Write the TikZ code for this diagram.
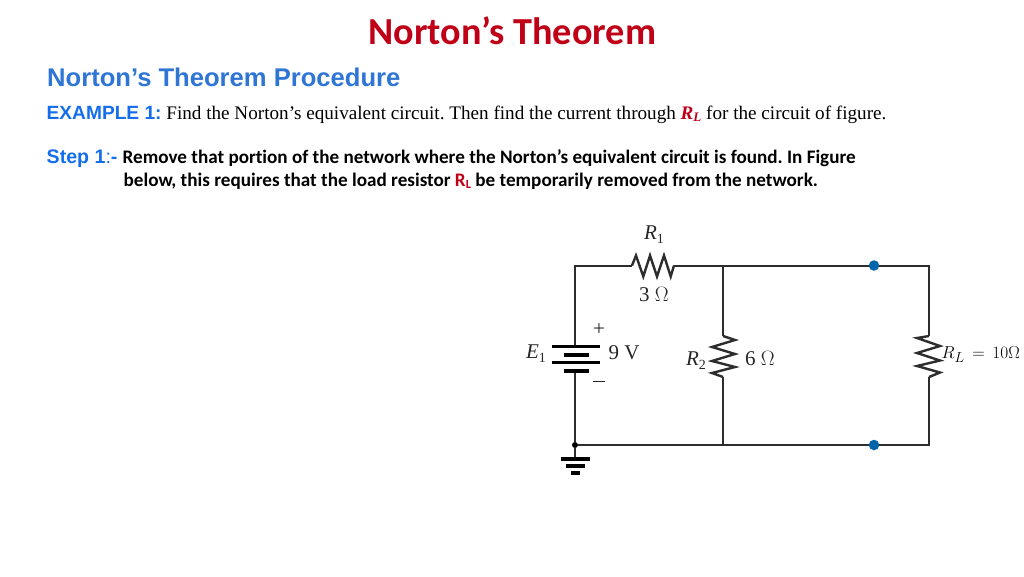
\documentclass[tikz,border=0pt]{standalone}
\usepackage{fontspec}
\usepackage{amsmath}
\setmainfont{Liberation Serif}
\newfontfamily\carl[Ligatures=NoCommon]{Carlito}
\newfontfamily\arial{Liberation Sans}
\definecolor{titlered}{RGB}{192,0,22}
\definecolor{headblue}{RGB}{46,117,214}
\definecolor{stepblue}{RGB}{20,110,235}
\definecolor{dotblue}{RGB}{0,100,170}
\definecolor{wirec}{RGB}{45,45,45}
\tikzset{
  x=1pt,y=-1pt,
  txt/.style={inner sep=0pt,anchor=base west,text=black},
  wire/.style={draw=wirec,line width=2pt,line join=miter},
  zig/.style={draw=wirec,line width=2.4pt,line join=miter},
  plate/.style={draw=black,line width=2.8pt},
  thick plate/.style={draw=black,line width=4.4pt},
  term/.style={circle,fill=dotblue,inner sep=0pt,minimum size=10.5pt},
  junc/.style={circle,fill=black,inner sep=0pt,minimum size=6pt},
  lab/.style={inner sep=0pt,text=black!85,font=\fontsize{21}{23}\selectfont},
}
\frenchspacing
\begin{document}
\begin{tikzpicture}
\useasboundingbox (0,0) rectangle (1024,576);
% texts
\node[txt,text=titlered] (title) at (368.5,44.5) {\carl\bfseries\fontsize{38.2}{40}\selectfont Norton’s Theorem};
\node[txt,text=headblue] (head) at (47,86) {\arial\bfseries\fontsize{25.6}{28}\selectfont Norton’s Theorem Procedure};
\node[txt] (ex) at (46.5,119) {\fontsize{19.15}{22}\selectfont\textcolor{stepblue}{\arial\bfseries EXAMPLE 1:} Find the Norton’s equivalent circuit. Then find the current through \textcolor{titlered}{\textbf{\textit{R\raisebox{-0.25ex}{\fontsize{13}{13}\selectfont L}}}} for the circuit of figure.};
\node[txt] (st1) at (46.5,163) {\textcolor{stepblue}{\arial\bfseries\fontsize{19.6}{22}\selectfont Step 1}\textcolor{stepblue}{\arial\fontsize{19.6}{22}\selectfont :\textbf{-}}};
\node[txt] (st2) at (122.5,163) {\carl\bfseries\fontsize{19.12}{22}\selectfont Remove that portion of the network where the Norton’s equivalent circuit is found. In Figure};
\node[txt] (st3) at (123.5,186) {\carl\bfseries\fontsize{19.15}{22}\selectfont below, this requires that the load resistor \textcolor{titlered}{R\raisebox{-0.3ex}{\fontsize{12.5}{13}\selectfont L}} be temporarily removed from the network.};
% circuit points
\coordinate (tl) at (575,265.5);
\coordinate (r1a) at (632,265.5);
\coordinate (r1b) at (674,265.5);
\coordinate (tm) at (723,265.5);
\coordinate (tr) at (929,265.5);
\coordinate (r2a) at (723,336);
\coordinate (r2b) at (723,377);
\coordinate (rla) at (929,336);
\coordinate (rlb) at (929,377);
\coordinate (bm) at (723,445);
\coordinate (br) at (929,445);
\coordinate (bat+) at (575,346.5);
\coordinate (bat-) at (575,370.5);
\node[junc] (bl) at (575,445) {};
\coordinate (gnd) at (575,459);
% wires
\draw[wire] (bat+) -- (tl) -- (r1a);
\draw[wire] (r1b) -- (tm) -- (tr) -- (rla);
\draw[wire] (tm) -- (r2a);
\draw[wire] (r2b) -- (bm);
\draw[wire] (rlb) -- (br) -- (bl);
\draw[wire] (bat-) -- (bl) -- (gnd);
% resistors
\draw[zig] (r1a) -- (636,255.5) -- (643.3,276.5) -- (650,255.5) -- (657,276.5) -- (664,255.5) -- (670.7,276.5) -- (r1b);
\draw[zig] (r2a) -- (735,340) -- (712,347) -- (735,354) -- (712,361) -- (735,367) -- (712,373) -- (r2b);
\draw[zig] (rla) -- (917,338) -- (940,346) -- (917,353) -- (940,360.5) -- (917,366) -- (940,372.5) -- (rlb);
% battery
\draw[plate] (552,346.7) -- (600,346.7);
\draw[thick plate] (563.5,355) -- (588.5,355);
\draw[plate] (552,362.7) -- (600,362.7);
\draw[thick plate] (563.5,370.7) -- (588.5,370.7);
% ground
\draw[line width=3.2pt] (561,459) -- (590,459);
\draw[line width=3.2pt] (566,466) -- (585,466);
\draw[line width=3.2pt] (571,473) -- (580,473);
% terminals
\node[term] (ta) at (874,265.5) {};
\node[term] (tb) at (874,445) {};
% labels
\node[lab] (lr1) at (654,234.5) {\textit{R}\raisebox{-0.4ex}{\fontsize{14}{14}\selectfont 1}};
\node[lab] (l3) at (654,295) {3 $\Omega$};
\node[lab] (lplus) at (599,330) {+};
\node[lab] (lminus) at (599,381) {\rule{12pt}{0.8pt}};
\node[lab] (l9) at (624,353) {9 V};
\node[lab] (le) at (536,353.5) {\textit{E}\raisebox{-0.4ex}{\fontsize{14}{14}\selectfont 1}};
\node[lab] (lr2) at (696,361) {\textit{R}\raisebox{-0.4ex}{\fontsize{14}{14}\selectfont 2}};
\node[lab] (l6) at (760,359) {6 $\Omega$};
\node[inner sep=0pt,anchor=west,text=black] (lrl) at (941.5,355) {\fontsize{19}{22}\selectfont $R_L\,=\,10\Omega$};
\end{tikzpicture}
\end{document}
